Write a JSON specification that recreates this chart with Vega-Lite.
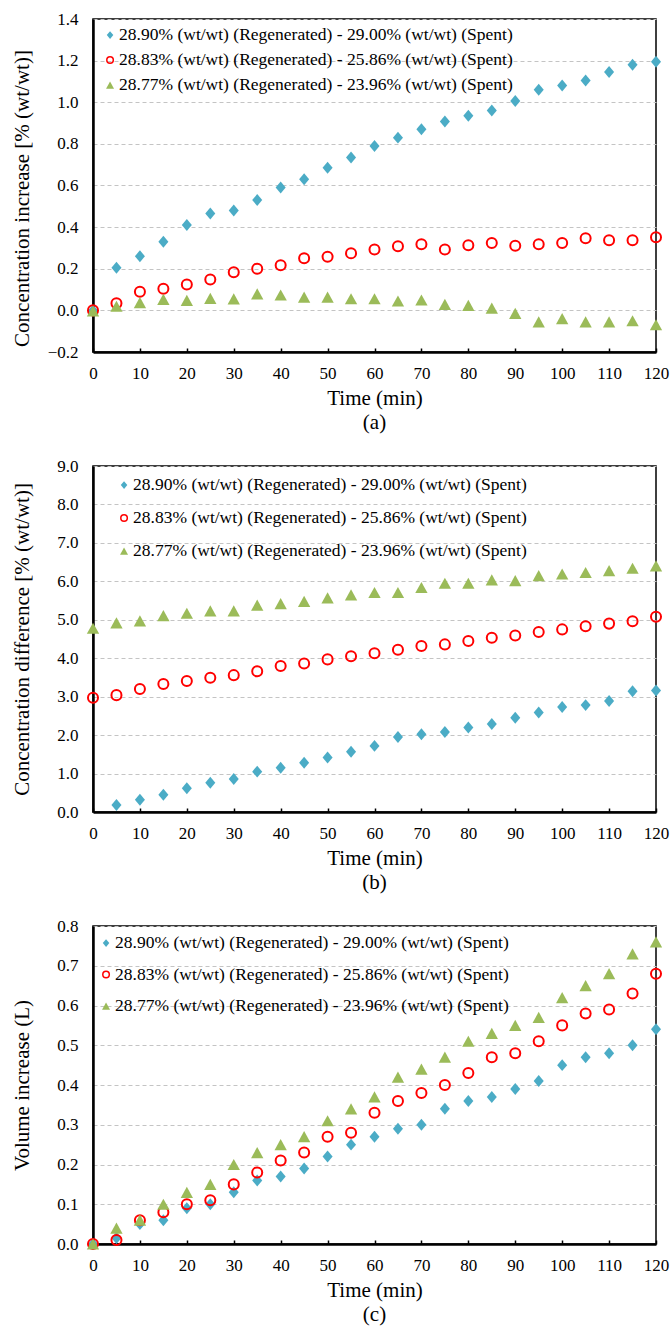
{
  "$schema": "https://vega.github.io/schema/vega-lite/v6.json",
  "background": "white",
  "padding": {"left": 10, "top": 9, "right": 5, "bottom": 5},
  "bounds": "flush",
  "spacing": 114,
  "config": {
    "font": "Liberation Serif",
    "view": {"stroke": "#000000", "strokeWidth": 1.5},
    "axis": {
      "labelFont": "Liberation Serif", "labelFontSize": 17, "labelColor": "#000000",
      "titleFont": "Liberation Serif", "titleFontSize": 21, "titleFontWeight": "normal", "titleColor": "#000000",
      "domainColor": "#000000", "domainWidth": 2.5,
      "tickColor": "#000000", "tickWidth": 1.5, "tickSize": -4,
      "gridColor": "#C4C4C4", "gridDash": [4, 3], "gridWidth": 1
    },
    "axisX": {"grid": false, "labelPadding": 17, "titlePadding": 6, "labelFlush": false},
    "axisY": {"grid": true, "ticks": false, "labelPadding": 15, "titleX": -71, "titleBaseline": "middle"},
    "title": {"font": "Liberation Serif", "fontSize": 21, "fontWeight": "normal", "color": "#000000", "orient": "bottom", "offset": 4, "anchor": "middle"}
  },
  "resolve": {"scale": {"shape": "independent", "fill": "independent", "stroke": "independent"}},
  "datasets": {
    "a": [
      {"s": "A", "t": 0, "v": 0.0}, {"s": "A", "t": 5, "v": 0.205}, {"s": "A", "t": 10, "v": 0.26}, {"s": "A", "t": 15, "v": 0.33}, {"s": "A", "t": 20, "v": 0.41},
      {"s": "A", "t": 25, "v": 0.465}, {"s": "A", "t": 30, "v": 0.48}, {"s": "A", "t": 35, "v": 0.53}, {"s": "A", "t": 40, "v": 0.59}, {"s": "A", "t": 45, "v": 0.63},
      {"s": "A", "t": 50, "v": 0.685}, {"s": "A", "t": 55, "v": 0.735}, {"s": "A", "t": 60, "v": 0.79}, {"s": "A", "t": 65, "v": 0.83}, {"s": "A", "t": 70, "v": 0.87},
      {"s": "A", "t": 75, "v": 0.907}, {"s": "A", "t": 80, "v": 0.935}, {"s": "A", "t": 85, "v": 0.96}, {"s": "A", "t": 90, "v": 1.006}, {"s": "A", "t": 95, "v": 1.06},
      {"s": "A", "t": 100, "v": 1.08}, {"s": "A", "t": 105, "v": 1.105}, {"s": "A", "t": 110, "v": 1.145}, {"s": "A", "t": 115, "v": 1.18}, {"s": "A", "t": 120, "v": 1.195},
      {"s": "B", "t": 0, "v": 0.0}, {"s": "B", "t": 5, "v": 0.034}, {"s": "B", "t": 10, "v": 0.09}, {"s": "B", "t": 15, "v": 0.104}, {"s": "B", "t": 20, "v": 0.124},
      {"s": "B", "t": 25, "v": 0.148}, {"s": "B", "t": 30, "v": 0.183}, {"s": "B", "t": 35, "v": 0.2}, {"s": "B", "t": 40, "v": 0.217}, {"s": "B", "t": 45, "v": 0.25},
      {"s": "B", "t": 50, "v": 0.258}, {"s": "B", "t": 55, "v": 0.274}, {"s": "B", "t": 60, "v": 0.293}, {"s": "B", "t": 65, "v": 0.308}, {"s": "B", "t": 70, "v": 0.318},
      {"s": "B", "t": 75, "v": 0.293}, {"s": "B", "t": 80, "v": 0.313}, {"s": "B", "t": 85, "v": 0.324}, {"s": "B", "t": 90, "v": 0.311}, {"s": "B", "t": 95, "v": 0.318},
      {"s": "B", "t": 100, "v": 0.324}, {"s": "B", "t": 105, "v": 0.347}, {"s": "B", "t": 110, "v": 0.337}, {"s": "B", "t": 115, "v": 0.337}, {"s": "B", "t": 120, "v": 0.351},
      {"s": "C", "t": 0, "v": -0.003}, {"s": "C", "t": 5, "v": 0.02}, {"s": "C", "t": 10, "v": 0.037}, {"s": "C", "t": 15, "v": 0.053}, {"s": "C", "t": 20, "v": 0.048},
      {"s": "C", "t": 25, "v": 0.058}, {"s": "C", "t": 30, "v": 0.055}, {"s": "C", "t": 35, "v": 0.079}, {"s": "C", "t": 40, "v": 0.074}, {"s": "C", "t": 45, "v": 0.064},
      {"s": "C", "t": 50, "v": 0.064}, {"s": "C", "t": 55, "v": 0.056}, {"s": "C", "t": 60, "v": 0.056}, {"s": "C", "t": 65, "v": 0.045}, {"s": "C", "t": 70, "v": 0.05},
      {"s": "C", "t": 75, "v": 0.029}, {"s": "C", "t": 80, "v": 0.024}, {"s": "C", "t": 85, "v": 0.011}, {"s": "C", "t": 90, "v": -0.014}, {"s": "C", "t": 95, "v": -0.055},
      {"s": "C", "t": 100, "v": -0.04}, {"s": "C", "t": 105, "v": -0.055}, {"s": "C", "t": 110, "v": -0.055}, {"s": "C", "t": 115, "v": -0.05}, {"s": "C", "t": 120, "v": -0.069}
    ],
    "b": [
      {"s": "A", "t": 5, "v": 0.18}, {"s": "A", "t": 10, "v": 0.32}, {"s": "A", "t": 15, "v": 0.45}, {"s": "A", "t": 20, "v": 0.62},
      {"s": "A", "t": 25, "v": 0.76}, {"s": "A", "t": 30, "v": 0.86}, {"s": "A", "t": 35, "v": 1.05}, {"s": "A", "t": 40, "v": 1.15}, {"s": "A", "t": 45, "v": 1.28},
      {"s": "A", "t": 50, "v": 1.42}, {"s": "A", "t": 55, "v": 1.57}, {"s": "A", "t": 60, "v": 1.72}, {"s": "A", "t": 65, "v": 1.95}, {"s": "A", "t": 70, "v": 2.02},
      {"s": "A", "t": 75, "v": 2.08}, {"s": "A", "t": 80, "v": 2.2}, {"s": "A", "t": 85, "v": 2.29}, {"s": "A", "t": 90, "v": 2.45}, {"s": "A", "t": 95, "v": 2.59},
      {"s": "A", "t": 100, "v": 2.73}, {"s": "A", "t": 105, "v": 2.78}, {"s": "A", "t": 110, "v": 2.89}, {"s": "A", "t": 115, "v": 3.14}, {"s": "A", "t": 120, "v": 3.16},
      {"s": "B", "t": 0, "v": 2.97}, {"s": "B", "t": 5, "v": 3.04}, {"s": "B", "t": 10, "v": 3.2}, {"s": "B", "t": 15, "v": 3.33}, {"s": "B", "t": 20, "v": 3.41},
      {"s": "B", "t": 25, "v": 3.49}, {"s": "B", "t": 30, "v": 3.56}, {"s": "B", "t": 35, "v": 3.66}, {"s": "B", "t": 40, "v": 3.8}, {"s": "B", "t": 45, "v": 3.86},
      {"s": "B", "t": 50, "v": 3.97}, {"s": "B", "t": 55, "v": 4.05}, {"s": "B", "t": 60, "v": 4.13}, {"s": "B", "t": 65, "v": 4.22}, {"s": "B", "t": 70, "v": 4.32},
      {"s": "B", "t": 75, "v": 4.36}, {"s": "B", "t": 80, "v": 4.45}, {"s": "B", "t": 85, "v": 4.53}, {"s": "B", "t": 90, "v": 4.59}, {"s": "B", "t": 95, "v": 4.68},
      {"s": "B", "t": 100, "v": 4.75}, {"s": "B", "t": 105, "v": 4.83}, {"s": "B", "t": 110, "v": 4.9}, {"s": "B", "t": 115, "v": 4.96}, {"s": "B", "t": 120, "v": 5.08},
      {"s": "C", "t": 0, "v": 4.78}, {"s": "C", "t": 5, "v": 4.92}, {"s": "C", "t": 10, "v": 4.97}, {"s": "C", "t": 15, "v": 5.11}, {"s": "C", "t": 20, "v": 5.17},
      {"s": "C", "t": 25, "v": 5.23}, {"s": "C", "t": 30, "v": 5.23}, {"s": "C", "t": 35, "v": 5.38}, {"s": "C", "t": 40, "v": 5.42}, {"s": "C", "t": 45, "v": 5.48},
      {"s": "C", "t": 50, "v": 5.57}, {"s": "C", "t": 55, "v": 5.65}, {"s": "C", "t": 60, "v": 5.71}, {"s": "C", "t": 65, "v": 5.71}, {"s": "C", "t": 70, "v": 5.84},
      {"s": "C", "t": 75, "v": 5.95}, {"s": "C", "t": 80, "v": 5.95}, {"s": "C", "t": 85, "v": 6.04}, {"s": "C", "t": 90, "v": 6.02}, {"s": "C", "t": 95, "v": 6.15},
      {"s": "C", "t": 100, "v": 6.19}, {"s": "C", "t": 105, "v": 6.23}, {"s": "C", "t": 110, "v": 6.28}, {"s": "C", "t": 115, "v": 6.34}, {"s": "C", "t": 120, "v": 6.4}
    ],
    "c": [
      {"s": "A", "t": 0, "v": 0.0}, {"s": "A", "t": 5, "v": 0.015}, {"s": "A", "t": 10, "v": 0.05}, {"s": "A", "t": 15, "v": 0.06}, {"s": "A", "t": 20, "v": 0.09},
      {"s": "A", "t": 25, "v": 0.1}, {"s": "A", "t": 30, "v": 0.13}, {"s": "A", "t": 35, "v": 0.16}, {"s": "A", "t": 40, "v": 0.17}, {"s": "A", "t": 45, "v": 0.19},
      {"s": "A", "t": 50, "v": 0.22}, {"s": "A", "t": 55, "v": 0.25}, {"s": "A", "t": 60, "v": 0.27}, {"s": "A", "t": 65, "v": 0.29}, {"s": "A", "t": 70, "v": 0.3},
      {"s": "A", "t": 75, "v": 0.34}, {"s": "A", "t": 80, "v": 0.36}, {"s": "A", "t": 85, "v": 0.37}, {"s": "A", "t": 90, "v": 0.39}, {"s": "A", "t": 95, "v": 0.41},
      {"s": "A", "t": 100, "v": 0.45}, {"s": "A", "t": 105, "v": 0.47}, {"s": "A", "t": 110, "v": 0.48}, {"s": "A", "t": 115, "v": 0.5}, {"s": "A", "t": 120, "v": 0.54},
      {"s": "B", "t": 0, "v": 0.0}, {"s": "B", "t": 5, "v": 0.01}, {"s": "B", "t": 10, "v": 0.06}, {"s": "B", "t": 15, "v": 0.08}, {"s": "B", "t": 20, "v": 0.1},
      {"s": "B", "t": 25, "v": 0.11}, {"s": "B", "t": 30, "v": 0.15}, {"s": "B", "t": 35, "v": 0.18}, {"s": "B", "t": 40, "v": 0.21}, {"s": "B", "t": 45, "v": 0.23},
      {"s": "B", "t": 50, "v": 0.27}, {"s": "B", "t": 55, "v": 0.28}, {"s": "B", "t": 60, "v": 0.33}, {"s": "B", "t": 65, "v": 0.36}, {"s": "B", "t": 70, "v": 0.38},
      {"s": "B", "t": 75, "v": 0.4}, {"s": "B", "t": 80, "v": 0.43}, {"s": "B", "t": 85, "v": 0.47}, {"s": "B", "t": 90, "v": 0.48}, {"s": "B", "t": 95, "v": 0.51},
      {"s": "B", "t": 100, "v": 0.55}, {"s": "B", "t": 105, "v": 0.58}, {"s": "B", "t": 110, "v": 0.59}, {"s": "B", "t": 115, "v": 0.63}, {"s": "B", "t": 120, "v": 0.68},
      {"s": "C", "t": 0, "v": 0.0}, {"s": "C", "t": 5, "v": 0.04}, {"s": "C", "t": 10, "v": 0.06}, {"s": "C", "t": 15, "v": 0.1}, {"s": "C", "t": 20, "v": 0.13},
      {"s": "C", "t": 25, "v": 0.15}, {"s": "C", "t": 30, "v": 0.2}, {"s": "C", "t": 35, "v": 0.23}, {"s": "C", "t": 40, "v": 0.25}, {"s": "C", "t": 45, "v": 0.27},
      {"s": "C", "t": 50, "v": 0.31}, {"s": "C", "t": 55, "v": 0.34}, {"s": "C", "t": 60, "v": 0.37}, {"s": "C", "t": 65, "v": 0.42}, {"s": "C", "t": 70, "v": 0.44},
      {"s": "C", "t": 75, "v": 0.47}, {"s": "C", "t": 80, "v": 0.51}, {"s": "C", "t": 85, "v": 0.53}, {"s": "C", "t": 90, "v": 0.55}, {"s": "C", "t": 95, "v": 0.57},
      {"s": "C", "t": 100, "v": 0.62}, {"s": "C", "t": 105, "v": 0.65}, {"s": "C", "t": 110, "v": 0.68}, {"s": "C", "t": 115, "v": 0.73}, {"s": "C", "t": 120, "v": 0.76}
    ]
  },
  "vconcat": [
    {
      "width": 563, "height": 333,
      "data": {"name": "a"},
      "title": {"text": "(a)"},
      "mark": {"type": "point", "size": 130, "strokeWidth": 2, "opacity": 1, "strokeJoin": "round"},
      "encoding": {
        "x": {"field": "t", "type": "quantitative", "scale": {"domain": [0, 120], "nice": false}, "axis": {"title": "Time (min)", "values": [0, 10, 20, 30, 40, 50, 60, 70, 80, 90, 100, 110, 120]}},
        "y": {"field": "v", "type": "quantitative", "scale": {"domain": [-0.2, 1.4], "nice": false, "zero": false}, "axis": {"title": "Concentration increase [% (wt/wt)]", "values": [-0.2, 0, 0.2, 0.4, 0.6, 0.8, 1.0, 1.2, 1.4], "format": ".1f", "titleY": 179}},
        "shape": {"field": "s", "type": "nominal", "scale": {"domain": ["A", "B", "C"], "range": ["M0,-1.05L0.88,0L0,1.05L-0.88,0Z", "M-0.88,0A0.88,0.88 0 1,0 0.88,0A0.88,0.88 0 1,0 -0.88,0Z", "M0,-0.98L1.08,0.98L-1.08,0.98Z"]},
          "legend": {"title": null, "orient": "none", "legendX": 8.3, "legendY": 7.3, "padding": 0, "rowPadding": 6, "symbolSize": 55, "symbolStrokeWidth": 1.5, "labelFont": "Liberation Serif", "labelFontSize": 17.5, "labelColor": "#000000", "labelOffset": 0.3, "labelLimit": 0,
            "labelExpr": "datum.label == 'A' ? '28.90% (wt/wt) (Regenerated) - 29.00% (wt/wt) (Spent)' : datum.label == 'B' ? '28.83% (wt/wt) (Regenerated) - 25.86% (wt/wt) (Spent)' : '28.77% (wt/wt) (Regenerated) - 23.96% (wt/wt) (Spent)'"}},
        "fill": {"field": "s", "type": "nominal", "scale": {"domain": ["A", "B", "C"], "range": ["#4BACC6", "transparent", "#9BBB59"]},
          "legend": {"title": null, "orient": "none", "legendX": 8.3, "legendY": 7.3, "padding": 0, "rowPadding": 6, "symbolSize": 55, "symbolStrokeWidth": 1.5, "labelFont": "Liberation Serif", "labelFontSize": 17.5, "labelColor": "#000000", "labelOffset": 0.3, "labelLimit": 0,
            "labelExpr": "datum.label == 'A' ? '28.90% (wt/wt) (Regenerated) - 29.00% (wt/wt) (Spent)' : datum.label == 'B' ? '28.83% (wt/wt) (Regenerated) - 25.86% (wt/wt) (Spent)' : '28.77% (wt/wt) (Regenerated) - 23.96% (wt/wt) (Spent)'"}},
        "stroke": {"field": "s", "type": "nominal", "scale": {"domain": ["A", "B", "C"], "range": ["transparent", "#FF0000", "transparent"]},
          "legend": {"title": null, "orient": "none", "legendX": 8.3, "legendY": 7.3, "padding": 0, "rowPadding": 6, "symbolSize": 55, "symbolStrokeWidth": 1.5, "labelFont": "Liberation Serif", "labelFontSize": 17.5, "labelColor": "#000000", "labelOffset": 0.3, "labelLimit": 0,
            "labelExpr": "datum.label == 'A' ? '28.90% (wt/wt) (Regenerated) - 29.00% (wt/wt) (Spent)' : datum.label == 'B' ? '28.83% (wt/wt) (Regenerated) - 25.86% (wt/wt) (Spent)' : '28.77% (wt/wt) (Regenerated) - 23.96% (wt/wt) (Spent)'"}}
      }
    },
    {
      "width": 563, "height": 346,
      "data": {"name": "b"},
      "title": {"text": "(b)"},
      "mark": {"type": "point", "size": 130, "strokeWidth": 2, "opacity": 1, "strokeJoin": "round"},
      "encoding": {
        "x": {"field": "t", "type": "quantitative", "scale": {"domain": [0, 120], "nice": false}, "axis": {"title": "Time (min)", "values": [0, 10, 20, 30, 40, 50, 60, 70, 80, 90, 100, 110, 120]}},
        "y": {"field": "v", "type": "quantitative", "scale": {"domain": [0, 9], "nice": false}, "axis": {"title": "Concentration difference [% (wt/wt)]", "values": [0, 1, 2, 3, 4, 5, 6, 7, 8, 9], "format": ".1f"}},
        "shape": {"field": "s", "type": "nominal", "scale": {"domain": ["A", "B", "C"], "range": ["M0,-1.05L0.88,0L0,1.05L-0.88,0Z", "M-0.88,0A0.88,0.88 0 1,0 0.88,0A0.88,0.88 0 1,0 -0.88,0Z", "M0,-0.98L1.08,0.98L-1.08,0.98Z"]},
          "legend": {"title": null, "orient": "none", "legendX": 22.3, "legendY": 10.3, "padding": 0, "rowPadding": 14, "symbolSize": 55, "symbolStrokeWidth": 1.5, "labelFont": "Liberation Serif", "labelFontSize": 17.5, "labelColor": "#000000", "labelOffset": 0.3, "labelLimit": 0,
            "labelExpr": "datum.label == 'A' ? '28.90% (wt/wt) (Regenerated) - 29.00% (wt/wt) (Spent)' : datum.label == 'B' ? '28.83% (wt/wt) (Regenerated) - 25.86% (wt/wt) (Spent)' : '28.77% (wt/wt) (Regenerated) - 23.96% (wt/wt) (Spent)'"}},
        "fill": {"field": "s", "type": "nominal", "scale": {"domain": ["A", "B", "C"], "range": ["#4BACC6", "transparent", "#9BBB59"]},
          "legend": {"title": null, "orient": "none", "legendX": 22.3, "legendY": 10.3, "padding": 0, "rowPadding": 14, "symbolSize": 55, "symbolStrokeWidth": 1.5, "labelFont": "Liberation Serif", "labelFontSize": 17.5, "labelColor": "#000000", "labelOffset": 0.3, "labelLimit": 0,
            "labelExpr": "datum.label == 'A' ? '28.90% (wt/wt) (Regenerated) - 29.00% (wt/wt) (Spent)' : datum.label == 'B' ? '28.83% (wt/wt) (Regenerated) - 25.86% (wt/wt) (Spent)' : '28.77% (wt/wt) (Regenerated) - 23.96% (wt/wt) (Spent)'"}},
        "stroke": {"field": "s", "type": "nominal", "scale": {"domain": ["A", "B", "C"], "range": ["transparent", "#FF0000", "transparent"]},
          "legend": {"title": null, "orient": "none", "legendX": 22.3, "legendY": 10.3, "padding": 0, "rowPadding": 14, "symbolSize": 55, "symbolStrokeWidth": 1.5, "labelFont": "Liberation Serif", "labelFontSize": 17.5, "labelColor": "#000000", "labelOffset": 0.3, "labelLimit": 0,
            "labelExpr": "datum.label == 'A' ? '28.90% (wt/wt) (Regenerated) - 29.00% (wt/wt) (Spent)' : datum.label == 'B' ? '28.83% (wt/wt) (Regenerated) - 25.86% (wt/wt) (Spent)' : '28.77% (wt/wt) (Regenerated) - 23.96% (wt/wt) (Spent)'"}}
      }
    },
    {
      "width": 563, "height": 318,
      "data": {"name": "c"},
      "title": {"text": "(c)"},
      "mark": {"type": "point", "size": 130, "strokeWidth": 2, "opacity": 1, "strokeJoin": "round"},
      "encoding": {
        "x": {"field": "t", "type": "quantitative", "scale": {"domain": [0, 120], "nice": false}, "axis": {"title": "Time (min)", "values": [0, 10, 20, 30, 40, 50, 60, 70, 80, 90, 100, 110, 120]}},
        "y": {"field": "v", "type": "quantitative", "scale": {"domain": [0, 0.8], "nice": false}, "axis": {"title": "Volume increase (L)", "values": [0, 0.1, 0.2, 0.3, 0.4, 0.5, 0.6, 0.7, 0.8], "format": ".1f"}},
        "shape": {"field": "s", "type": "nominal", "scale": {"domain": ["A", "B", "C"], "range": ["M0,-1.05L0.88,0L0,1.05L-0.88,0Z", "M-0.88,0A0.88,0.88 0 1,0 0.88,0A0.88,0.88 0 1,0 -0.88,0Z", "M0,-0.98L1.08,0.98L-1.08,0.98Z"]},
          "legend": {"title": null, "orient": "none", "legendX": 4.3, "legendY": 8.3, "padding": 0, "rowPadding": 12.5, "symbolSize": 55, "symbolStrokeWidth": 1.5, "labelFont": "Liberation Serif", "labelFontSize": 17.5, "labelColor": "#000000", "labelOffset": 0.3, "labelLimit": 0,
            "labelExpr": "datum.label == 'A' ? '28.90% (wt/wt) (Regenerated) - 29.00% (wt/wt) (Spent)' : datum.label == 'B' ? '28.83% (wt/wt) (Regenerated) - 25.86% (wt/wt) (Spent)' : '28.77% (wt/wt) (Regenerated) - 23.96% (wt/wt) (Spent)'"}},
        "fill": {"field": "s", "type": "nominal", "scale": {"domain": ["A", "B", "C"], "range": ["#4BACC6", "transparent", "#9BBB59"]},
          "legend": {"title": null, "orient": "none", "legendX": 4.3, "legendY": 8.3, "padding": 0, "rowPadding": 12.5, "symbolSize": 55, "symbolStrokeWidth": 1.5, "labelFont": "Liberation Serif", "labelFontSize": 17.5, "labelColor": "#000000", "labelOffset": 0.3, "labelLimit": 0,
            "labelExpr": "datum.label == 'A' ? '28.90% (wt/wt) (Regenerated) - 29.00% (wt/wt) (Spent)' : datum.label == 'B' ? '28.83% (wt/wt) (Regenerated) - 25.86% (wt/wt) (Spent)' : '28.77% (wt/wt) (Regenerated) - 23.96% (wt/wt) (Spent)'"}},
        "stroke": {"field": "s", "type": "nominal", "scale": {"domain": ["A", "B", "C"], "range": ["transparent", "#FF0000", "transparent"]},
          "legend": {"title": null, "orient": "none", "legendX": 4.3, "legendY": 8.3, "padding": 0, "rowPadding": 12.5, "symbolSize": 55, "symbolStrokeWidth": 1.5, "labelFont": "Liberation Serif", "labelFontSize": 17.5, "labelColor": "#000000", "labelOffset": 0.3, "labelLimit": 0,
            "labelExpr": "datum.label == 'A' ? '28.90% (wt/wt) (Regenerated) - 29.00% (wt/wt) (Spent)' : datum.label == 'B' ? '28.83% (wt/wt) (Regenerated) - 25.86% (wt/wt) (Spent)' : '28.77% (wt/wt) (Regenerated) - 23.96% (wt/wt) (Spent)'"}}
      }
    }
  ]
}
